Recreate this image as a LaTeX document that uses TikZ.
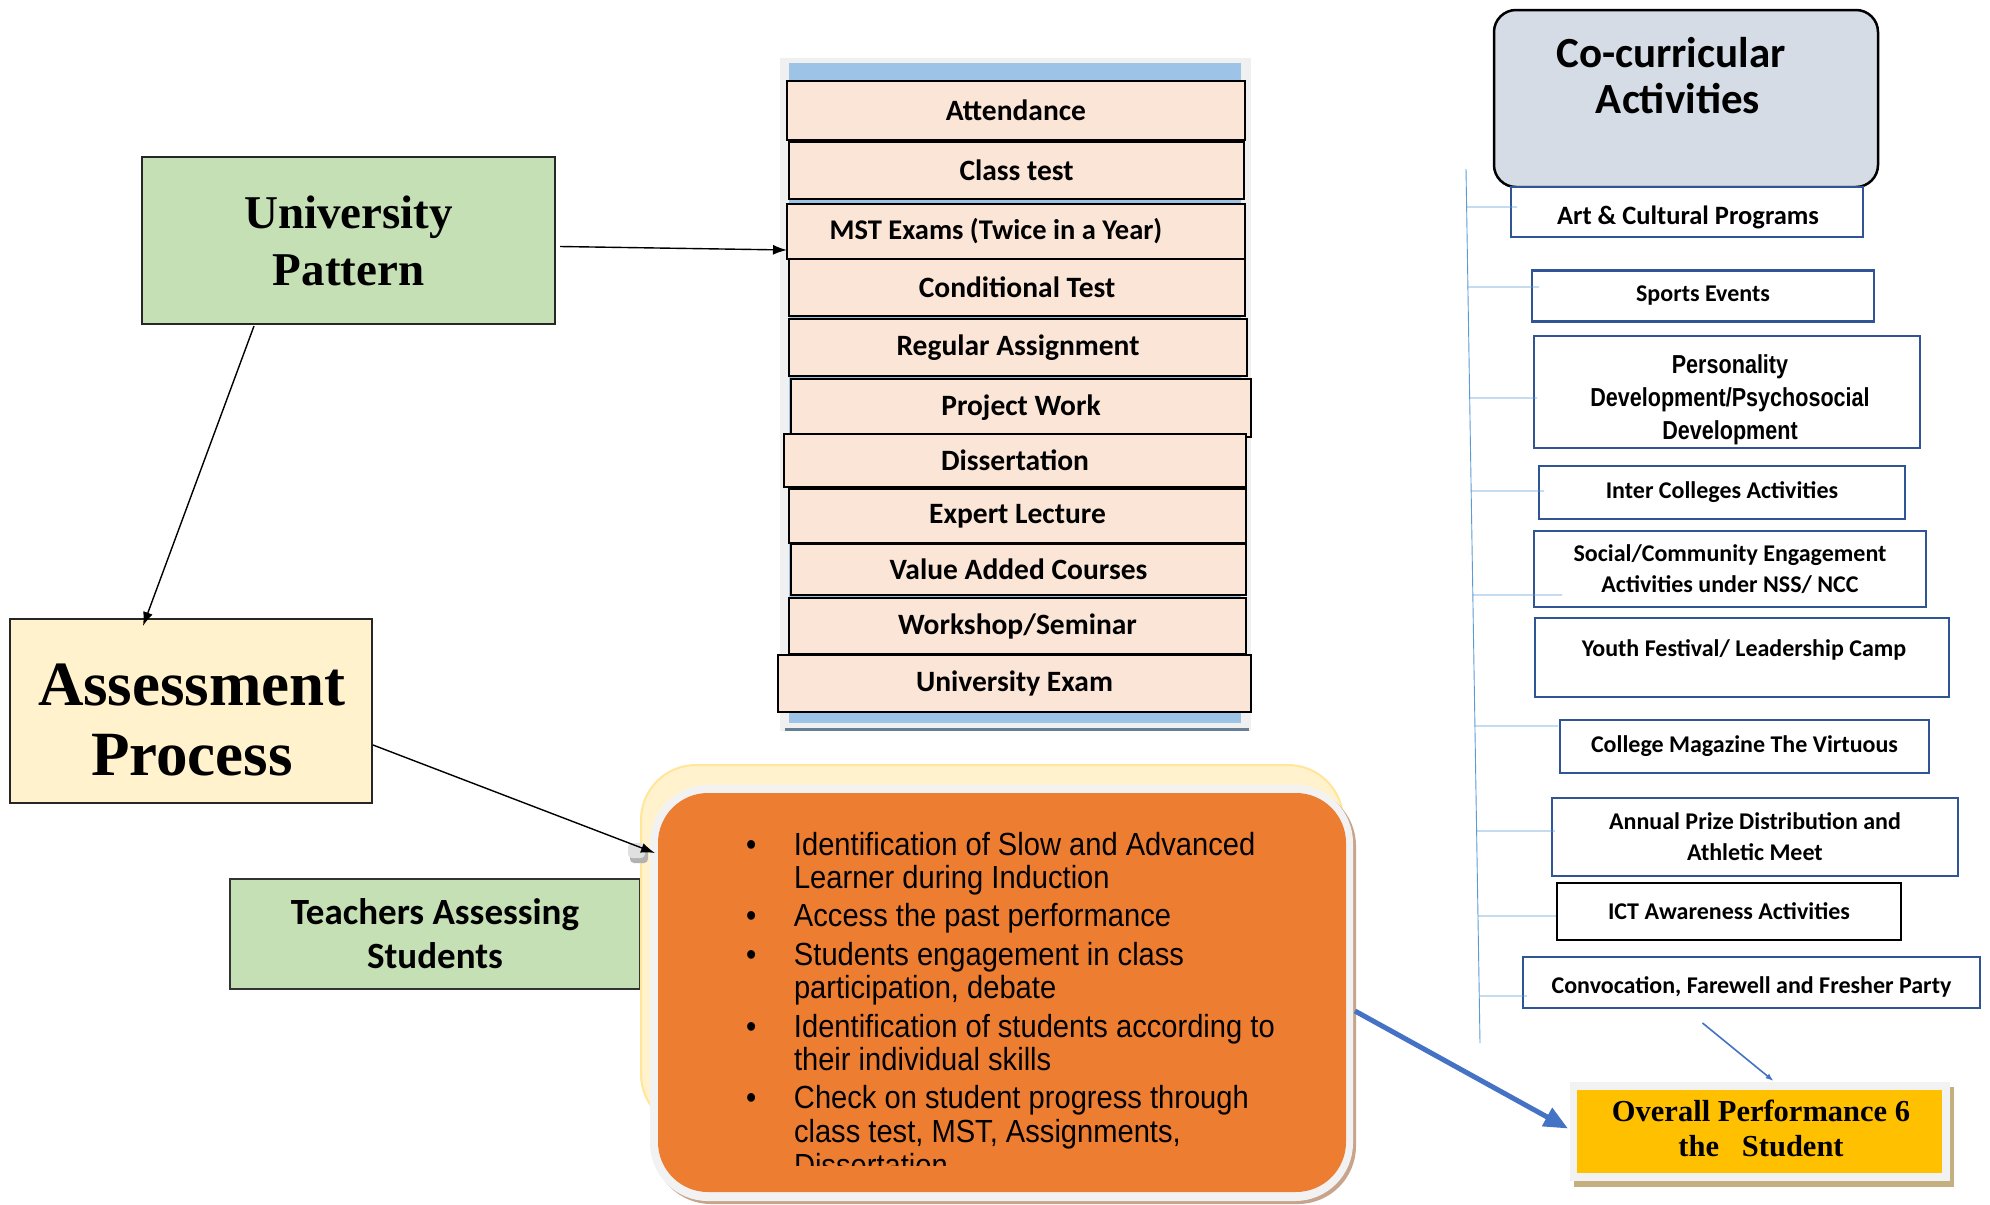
\documentclass[tikz,border=0pt]{standalone}
\usepackage{fontspec}
\setmainfont{Liberation Serif}
\newfontfamily\calibri{Carlito}
\newfontfamily\arialn[FakeStretch=0.91]{Liberation Sans}
\newfontfamily\arialbn[FakeStretch=0.83]{Liberation Sans}
\usetikzlibrary{arrows.meta,calc}
\definecolor{cgreen}{HTML}{C5E0B4}
\definecolor{cpale}{HTML}{FFF2CC}
\definecolor{cpaleedge}{HTML}{FFE699}
\definecolor{cpeach}{HTML}{FBE5D6}
\definecolor{cbar}{HTML}{9DC3E6}
\definecolor{cgray}{HTML}{D6DCE5}
\definecolor{cboxblue}{HTML}{2F5597}
\definecolor{cspine}{HTML}{5B9BD5}
\definecolor{carrow}{HTML}{4472C4}
\definecolor{corange}{HTML}{ED7D31}
\definecolor{cgold}{HTML}{FFC000}
\definecolor{ctan}{HTML}{C4B07E}
\definecolor{cshadow}{HTML}{C9A48C}
\definecolor{cframe}{HTML}{F2F2F2}
\begin{document}
\begin{tikzpicture}[x=1pt,y=-1pt,
  every node/.style={inner sep=0pt,outer sep=0pt},
  bigbox/.style={draw=black!85,line width=2pt,align=center,font=\bfseries},
  itembox/.style={draw=black,line width=1.6pt,fill=cpeach,align=center,
    font=\calibri\bfseries\fontsize{29.5}{32}\selectfont},
  cobox/.style={draw=cboxblue,line width=2.2pt,fill=white,align=center,
    font=\calibri\bfseries\fontsize{24}{31}\selectfont},
  cotext/.style={align=center,font=\calibri\bfseries\fontsize{24}{31}\selectfont},
  tickline/.style={draw=cspine,line width=0.9pt},
  arr/.style={-{Latex[length=14pt,width=10pt]},line width=1.4pt}
]
\useasboundingbox (0,0) rectangle (1990,1205);
\fill[white] (0,0) rectangle (1990,1205);

% ---------- left boxes ----------
\node[bigbox,fill=cgreen,minimum width=413,minimum height=167,
  font=\bfseries\fontsize{47}{57}\selectfont] (up) at (348.5,240.5) {University\\Pattern};
\node[bigbox,fill=cpale,minimum width=362,minimum height=184] (ap) at (191,711) {};
\node[align=center,font=\bfseries\fontsize{63}{70}\selectfont] (apt) at (192,720) {Assessment\\Process};
\node[draw=black!80,line width=1.6pt,fill=cgreen,minimum width=410,minimum height=110,align=center,
  font=\calibri\bfseries\fontsize{37}{44}\selectfont] (tas) at (435,934) {Teachers Assessing\\Students};

% ---------- middle list ----------
\fill[black!6] (780,58) rectangle (1251,731);
\fill[cbar] (789,63) rectangle (1241,723);
\draw[black!35!cbar,line width=3pt] (785,729) -- (1249,729);
\node[itembox,minimum width=458,minimum height=59] (att) at (1016,110.5) {Attendance};
\node[itembox,minimum width=455,minimum height=57] (ct) at (1016.5,170.5) {Class test};
\node[itembox,minimum width=458,minimum height=55,font=\calibri\bfseries\fontsize{28.5}{32}\selectfont] (mst) at (1016,231.5) {\hspace*{-40pt}MST Exams (Twice in a Year)};
\node[itembox,minimum width=456,minimum height=57] (cond) at (1017,287.5) {Conditional Test};
\node[itembox,minimum width=458,minimum height=57] (reg) at (1018,347.5) {Regular Assignment};
\node[itembox,minimum width=460,minimum height=58] (proj) at (1021,408) {Project Work};
\node[itembox,minimum width=462,minimum height=53] (diss) at (1015,460.5) {Dissertation};
\node[itembox,minimum width=457,minimum height=54] (exp) at (1017.5,516) {Expert Lecture};
\node[itembox,minimum width=455,minimum height=51] (vac) at (1018.5,569.5) {Value Added Courses};
\node[itembox,minimum width=457,minimum height=56] (ws) at (1017.5,626) {Workshop/Seminar};
\node[itembox,minimum width=473,minimum height=57] (ue) at (1014.5,683.5) {University Exam};

% ---------- co-curricular ----------
\node[draw=black,line width=2.5pt,fill=cgray,rounded corners=22,minimum width=384,minimum height=177] (cca) at (1686,98.5) {};
\node[align=center,font=\calibri\bfseries\fontsize{43}{46}\selectfont] (ccat) at (1671,76) {Co-curricular\\\hspace*{14pt}Activities};

\node[cobox,minimum width=352,minimum height=50] (art) at (1687,212) {};
\node[cotext,font=\calibri\bfseries\fontsize{26.5}{31}\selectfont] (artt) at (1688,217) {Art \& Cultural Programs};
\node[cobox,minimum width=342,minimum height=51] (spo) at (1703,296) {Sports Events};
\node[cobox,minimum width=386,minimum height=112] (per) at (1727,392) {};
\node[align=center,font=\arialbn\bfseries\fontsize{26}{33}\selectfont] (pert) at (1730,400) {Personality\\Development/Psychosocial\\Development};
\node[cobox,minimum width=366,minimum height=53] (inter) at (1722,492.5) {Inter Colleges Activities};
\node[cobox,minimum width=392,minimum height=76] (soc) at (1730,569) {Social/Community Engagement\\Activities under NSS/ NCC};
\node[cobox,minimum width=414,minimum height=79] (you) at (1742,657.5) {};
\node[cotext] (yout) at (1744,650) {Youth Festival/ Leadership Camp};
\node[cobox,minimum width=369,minimum height=53] (mag) at (1744.5,746.5) {College Magazine The Virtuous};
\node[cobox,minimum width=406,minimum height=78] (ann) at (1755,837) {Annual Prize Distribution and\\Athletic Meet};
\node[cobox,draw=black,minimum width=344,minimum height=57] (ict) at (1729,911.5) {ICT Awareness Activities};
\node[cobox,minimum width=457,minimum height=51] (conv) at (1751.5,982.5) {};
\node[cotext] (convt) at (1751.5,987) {Convocation, Farewell and Fresher Party};

% spine and ticks
\coordinate (sTop) at (1466,169);
\coordinate (sBot) at (1480,1043);
\draw[tickline] (sTop) -- (sBot);
\draw[tickline] ($(sTop)!{(207-169)/874}!(sBot)$) -- ($(art.west |- 0,207)+(6,0)$);
\draw[tickline] ($(sTop)!{(287-169)/874}!(sBot)$) -- ($(spo.west |- 0,287)+(7,0)$);
\draw[tickline] ($(sTop)!{(398-169)/874}!(sBot)$) -- ($(per.west |- 0,398)+(3,0)$);
\draw[tickline] ($(sTop)!{(491-169)/874}!(sBot)$) -- ($(inter.west |- 0,491)+(5,0)$);
\draw[tickline] ($(sTop)!{(595-169)/874}!(sBot)$) -- ($(soc.west |- 0,595)+(28,0)$);
\draw[tickline] ($(sTop)!{(726-169)/874}!(sBot)$) -- ($(mag.west |- 0,726)+(-2,0)$);
\draw[tickline] ($(sTop)!{(831-169)/874}!(sBot)$) -- ($(ann.west |- 0,831)+(3,0)$);
\draw[tickline] ($(sTop)!{(916-169)/874}!(sBot)$) -- ($(ict.west |- 0,916)+(-1,0)$);
\draw[tickline] ($(sTop)!{(996-169)/874}!(sBot)$) -- ($(conv.west |- 0,996)+(4,0)$);

% ---------- orange box ----------
\draw[fill=cpale,draw=cpaleedge,line width=2pt,rounded corners=55] (641,765) rectangle (1343,1129);
\fill[cshadow,rounded corners=58] (653,788) rectangle (1356,1204);
\fill[cframe,rounded corners=58] (650,785) rectangle (1353,1201);
\node[fill=corange,rounded corners=50,minimum width=688,minimum height=399] (obox) at (1002,992.5) {};
\begin{scope}
\clip (700,800) rectangle (1340,1165);
\node[anchor=base west,font=\arialn\fontsize{32}{33.7}\selectfont] (btext) at (746,855) {%
\begin{tabular}[t]{@{}p{48pt}@{}l@{}}
\textbullet & Identification of Slow and Advanced\\
 & Learner during Induction\\[4.5pt]
\textbullet & Access the past performance\\[4.5pt]
\textbullet & Students engagement in class\\
 & participation, debate\\[4.5pt]
\textbullet & Identification of students according to\\
 & their individual skills\\[4.5pt]
\textbullet & Check on student progress through\\
 & class test, MST, Assignments,\\
 & Dissertation
\end{tabular}};
\end{scope}
% small handle at the arrow tip
\fill[black!30,rounded corners=4] (630,846) rectangle (648,863);
\fill[black!12,rounded corners=4] (628,843) rectangle (645,858);

% ---------- overall ----------
\fill[ctan] (1574,1087) rectangle (1954,1187);
\fill[cframe] (1570,1082) rectangle (1950,1181);
\node[fill=cgold,minimum width=365,minimum height=83] (ov) at (1759.5,1131.5) {};
\node[align=center,font=\bfseries\fontsize{30.5}{35}\selectfont] (ovt) at (1761,1128) {Overall Performance 6\\the\ \ \ Student};

% ---------- connectors ----------
\coordinate (atip) at (655,853);
\draw[arr] ($(up.south)+(-94.5,2)$) -- ($(ap.north)+(-48,7)$);
\draw[arr] ($(up.east)+(5,6)$) -- ($(mst.west)+(0,18.5)$);
\draw[arr] ($(ap.east)+(1,34)$) -- (atip);
\draw[carrow,line width=5pt,-{Triangle[length=24pt,width=20pt]}] ($(obox.east)+(9,18.5)$) -- ($(ov.west)+(-9,-3)$);
\draw[carrow,line width=1.6pt,-{Latex[length=8pt,width=6pt]}] ($(conv.south)+(-49,15)$) -- ($(ov.north)+(14,-9)$);
\end{tikzpicture}
\end{document}
